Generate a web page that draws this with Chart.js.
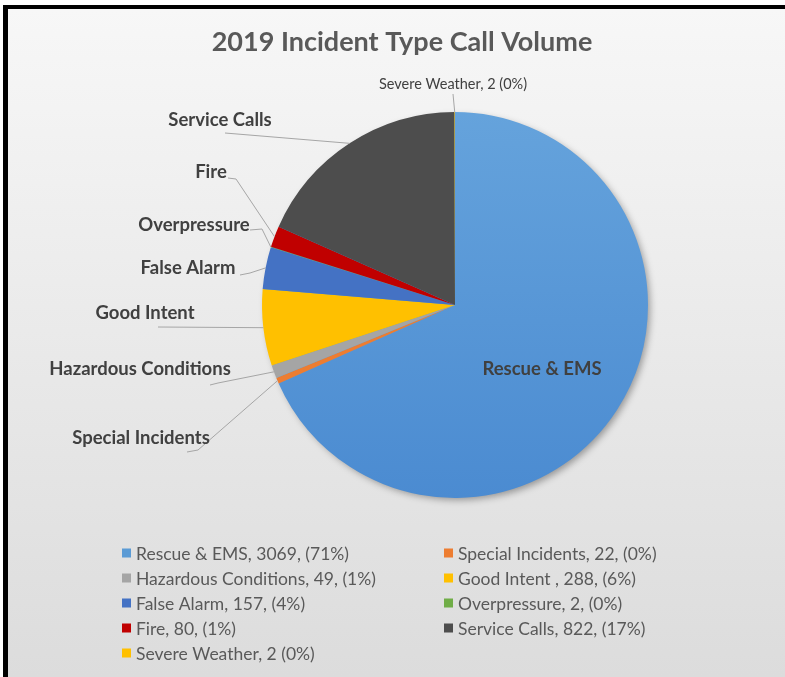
<!DOCTYPE html>
<html>
<head>
<meta charset="utf-8">
<title>2019 Incident Type Call Volume</title>
<script src="https://cdn.jsdelivr.net/npm/chart.js@4"></script>
<style>
  html, body { margin: 0; padding: 0; background: #fff; }
  #wrap { width: 785px; height: 677px; }
</style>
</head>
<body>
<div id="wrap"><canvas id="chart" width="785" height="677"></canvas></div>
<script>
const categories = ["Rescue & EMS", "Special Incidents", "Hazardous Conditions", "Good Intent", "False Alarm",
  "Overpressure", "Fire", "Service Calls", "Severe Weather"];
const calls = [3069, 22, 49, 288, 157, 2, 80, 822, 2];
const legendText = ["Rescue & EMS, 3069, (71%)", "Special Incidents, 22, (0%)", "Hazardous Conditions, 49, (1%)",
  "Good Intent , 288, (6%)", "False Alarm, 157, (4%)", "Overpressure, 2, (0%)", "Fire, 80, (1%)",
  "Service Calls, 822, (17%)", "Severe Weather, 2 (0%)"];
const colors = ["#5b9bd5", "#ed7d31", "#a5a5a5", "#ffc000", "#4472c4", "#70ad47", "#c00000", "#4d4d4d", "#ffc000"];

// where the slice names sit (text centre) and where their leader lines start
const labelSpots = {
  "Rescue & EMS":         { x: 542, y: 369 },
  "Special Incidents":    { x: 141, y: 438, from: [187, 452], bend: [198, 450] },
  "Hazardous Conditions": { x: 140, y: 369, from: [210, 385], bend: [218, 383] },
  "Good Intent":          { x: 145, y: 313, from: [158, 327] },
  "False Alarm":          { x: 188, y: 268, from: [240, 275], bend: [250, 273] },
  "Overpressure":         { x: 194, y: 225, from: [250, 230], bend: [262, 229] },
  "Fire":                 { x: 211, y: 172, from: [228, 178], bend: [236, 179] },
  "Service Calls":        { x: 220, y: 120, from: [225, 133] },
  "Severe Weather":       { x: 453, y: 84, from: [453, 94], small: true, text: "Severe Weather, 2 (0%)" }
};

const FONT = "Lato, 'Open Sans', sans-serif";

const frame = {
  id: "frame",
  beforeDraw(c) {
    const ctx = c.ctx;
    ctx.save();
    ctx.fillStyle = "#fff";
    ctx.fillRect(0, 0, c.width, c.height);
    const g = ctx.createLinearGradient(0, 9, 0, c.height);
    g.addColorStop(0, "#f7f7f7");
    g.addColorStop(1, "#dcdcdc");
    ctx.fillStyle = g;
    ctx.fillRect(8, 9, c.width - 8, c.height - 9);
    ctx.fillStyle = "#000";
    ctx.fillRect(3, 5, c.width - 3, 4);
    ctx.fillRect(3, 5, 5, c.height - 5);
    // title
    ctx.fillStyle = "#595959";
    ctx.font = "bold 27px " + FONT;
    ctx.textAlign = "center";
    ctx.textBaseline = "middle";
    ctx.fillText("2019 Incident Type Call Volume", 402, 42);
    ctx.restore();
  },
  beforeDatasetsDraw(c) {
    // soft shadow under the pie
    const a = c.getDatasetMeta(0).data[0];
    const ctx = c.ctx;
    ctx.save();
    ctx.shadowColor = "rgba(0,0,0,0.35)";
    ctx.shadowBlur = 7;
    ctx.shadowOffsetX = 3;
    ctx.shadowOffsetY = 3;
    ctx.fillStyle = "#5b9bd5";
    ctx.beginPath();
    ctx.arc(a.x, a.y, a.outerRadius - 1, 0, Math.PI * 2);
    ctx.fill();
    ctx.restore();
  }
};

const sliceLabels = {
  id: "sliceLabels",
  afterDatasetsDraw(c) {
    const ctx = c.ctx;
    const arcs = c.getDatasetMeta(0).data;
    ctx.save();
    ctx.textAlign = "center";
    ctx.textBaseline = "middle";
    categories.forEach((name, i) => {
      const s = labelSpots[name];
      if (!s) return;
      const a = arcs[i];
      if (s.from) {
        const mid = (a.startAngle + a.endAngle) / 2;
        const ex = a.x + Math.cos(mid) * a.outerRadius;
        const ey = a.y + Math.sin(mid) * a.outerRadius;
        ctx.strokeStyle = "#a6a6a6";
        ctx.lineWidth = 1;
        ctx.beginPath();
        ctx.moveTo(s.from[0], s.from[1]);
        if (s.bend) ctx.lineTo(s.bend[0], s.bend[1]);
        ctx.lineTo(ex, ey);
        ctx.stroke();
      }
      ctx.fillStyle = "#404040";
      ctx.font = s.small ? "14.5px " + FONT : "bold 18.5px " + FONT;
      ctx.fillText(s.text || name, s.x, s.y);
    });
    ctx.restore();
  }
};

const gridLegend = {
  id: "gridLegend",
  afterDraw(c) {
    const ctx = c.ctx;
    ctx.save();
    ctx.font = "17.5px " + FONT;
    ctx.textBaseline = "middle";
    ctx.textAlign = "left";
    legendText.forEach((t, i) => {
      const x = i % 2 ? 444 : 122;
      const y = 553 + Math.floor(i / 2) * 25;
      ctx.fillStyle = colors[i];
      ctx.fillRect(x, y - 4.5, 9, 9);
      ctx.fillStyle = "#595959";
      ctx.fillText(t, x + 14, y + 1);
    });
    ctx.restore();
  }
};

// blue slice is shaded a little lighter at the top, like the original
function sliceColor(ctx) {
  const i = ctx.dataIndex;
  const area = ctx.chart.chartArea;
  if (i !== 0 || !area) return colors[i];
  const g = ctx.chart.ctx.createLinearGradient(0, area.top, 0, area.bottom);
  g.addColorStop(0, "#65a3dc");
  g.addColorStop(1, "#4b8bd1");
  return g;
}

new Chart(document.getElementById("chart"), {
  type: "pie",
  data: {
    labels: categories,
    datasets: [{ data: calls, backgroundColor: sliceColor, borderWidth: 0 }]
  },
  options: {
    responsive: false,
    animation: false,
    layout: { padding: { left: 262, right: 137, top: 112, bottom: 179 } },
    plugins: { legend: { display: false }, tooltip: { enabled: false }, title: { display: false } }
  },
  plugins: [frame, sliceLabels, gridLegend]
});
</script>
</body>
</html>
